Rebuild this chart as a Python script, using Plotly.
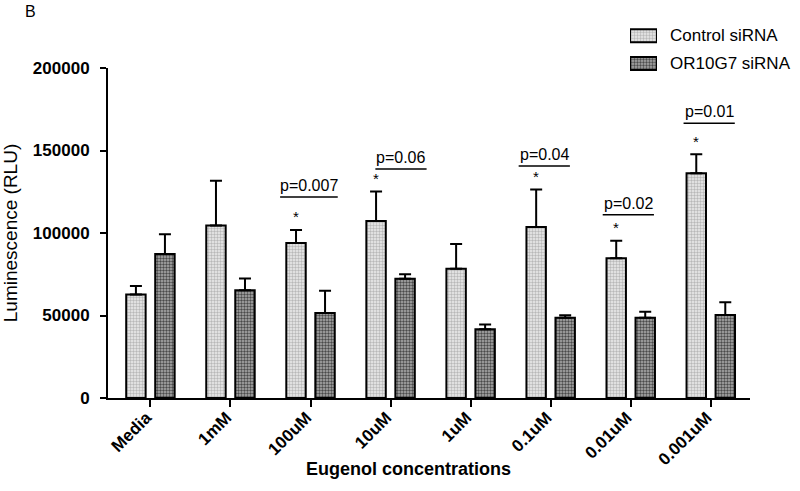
import plotly.graph_objects as go

# ---- data ----
categories = ["Media", "1mM", "100uM", "10uM", "1uM", "0.1uM", "0.01uM", "0.001uM"]
series_names = ["Control siRNA", "OR10G7 siRNA"]
control_mean = [62800, 104600, 93900, 107300, 78400, 103600, 84700, 136200]
control_err = [5100, 27100, 7900, 17800, 15000, 22700, 10600, 11500]
or10g7_mean = [87300, 65300, 51500, 72300, 41600, 48700, 48700, 50300]
or10g7_err = [11900, 7200, 13500, 2700, 3000, 1400, 3600, 7700]
y_ticks = [0, 50000, 100000, 150000, 200000]
sig_categories = ["100uM", "10uM", "0.1uM", "0.01uM", "0.001uM"]
p_labels = ["p=0.007", "p=0.06", "p=0.04", "p=0.02", "p=0.01"]

# ---- layout helpers (positions, not data) ----
W, H = 800, 491
PLOT_L, PLOT_R, PLOT_T, PLOT_B = 108, 750, 68, 398


def fx(x):
    return x / W


def fy(y):
    return 1 - y / H


p_text_dx = [-0.02, 0.13, -0.08, -0.03, -0.02]      # in category units
p_line_y = [121800, 138800, 140600, 111000, 166500]   # underline heights (y units)
p_half_w = [0.36, 0.32, 0.32, 0.32, 0.32]
ctrl_off = -0.18

FONT = "Liberation Sans, Arial, sans-serif"

styles = [
    dict(color="#e2e2e2", line=dict(color="black", width=2),
         pattern=dict(shape=".", fgcolor="#b8b8b8", bgcolor="#eeeeee",
                      size=3, solidity=0.5, fillmode="replace")),
    dict(color="#808080", line=dict(color="black", width=2),
         pattern=dict(shape=".", fgcolor="#4a4a4a", bgcolor="#b0b0b0",
                      size=3, solidity=0.5, fillmode="replace")),
]

fig = go.Figure()
for name, mean, err, st in [(series_names[0], control_mean, control_err, styles[0]),
                            (series_names[1], or10g7_mean, or10g7_err, styles[1])]:
    fig.add_trace(go.Bar(
        name=name, x=categories, y=mean, showlegend=False,
        error_y=dict(type="data", array=err, symmetric=False,
                     arrayminus=[0] * len(err), color="black",
                     thickness=2, width=6),
        marker=st, xaxis="x", yaxis="y",
    ))

# legend swatches (wide rectangles, as in the original legend)
for i, st in enumerate(styles):
    fig.add_trace(go.Bar(
        x=[1], y=[i], orientation="h", width=0.47, marker=st,
        showlegend=False, hoverinfo="skip", xaxis="x2", yaxis="y2",
    ))

annotations = []
shapes = []
for i, cat in enumerate(sig_categories):
    idx = categories.index(cat)
    top = control_mean[idx] + control_err[idx]
    annotations.append(dict(x=idx + ctrl_off, y=top + 8000, xref="x", yref="y",
                            text="*", showarrow=False, yanchor="middle",
                            font=dict(size=15, color="black")))
    cx = idx + p_text_dx[i]
    annotations.append(dict(x=cx, y=p_line_y[i], xref="x", yref="y",
                            text=p_labels[i], showarrow=False, yanchor="bottom",
                            yshift=1, font=dict(size=16, color="black")))
    shapes.append(dict(type="line", xref="x", yref="y",
                       x0=cx - p_half_w[i], x1=cx + p_half_w[i],
                       y0=p_line_y[i], y1=p_line_y[i],
                       line=dict(color="black", width=1.5)))

for i, name in enumerate(series_names):
    annotations.append(dict(x=fx(668), y=i, xref="paper", yref="y2",
                            text=name, showarrow=False, xanchor="left",
                            yanchor="middle", font=dict(size=17, color="black")))

annotations.append(dict(x=fx(30), y=fy(11), xref="paper", yref="paper",
                        text="B", showarrow=False, xanchor="center",
                        yanchor="middle", font=dict(size=16, color="black")))
annotations.append(dict(x=fx(408), y=fy(469), xref="paper", yref="paper",
                        text="<b>Eugenol concentrations</b>",
                        showarrow=False, xanchor="center", yanchor="middle",
                        font=dict(size=18, color="black")))

fig.update_layout(
    width=W, height=H,
    margin=dict(l=0, r=0, t=0, b=0),
    paper_bgcolor="white", plot_bgcolor="white",
    font=dict(family=FONT, color="black"),
    barmode="group", bargap=0.275, bargroupgap=0.33,
    showlegend=False,
    annotations=annotations,
    shapes=shapes,
    xaxis=dict(domain=[fx(PLOT_L), fx(PLOT_R)], range=[-0.53, 7.49],
               showline=True, linecolor="black",
               linewidth=2, ticks="outside", ticklen=7, tickwidth=2,
               tickcolor="black", tickangle=-45,
               tickvals=categories, ticktext=[f"<b>{c}</b>" for c in categories],
               tickfont=dict(size=17, family=FONT, color="black"),
               ticklabelshift=-4, ticklabelstandoff=-6,
               showgrid=False, zeroline=False, automargin=False, anchor="y"),
    yaxis=dict(domain=[fy(PLOT_B), fy(PLOT_T)], range=[0, 200000],
               tickvals=y_ticks, ticktext=[f"<b>{v}</b>" for v in y_ticks],
               showline=True, linecolor="black", linewidth=2,
               ticks="outside", ticklen=6, tickwidth=2, tickcolor="black",
               tickfont=dict(size=17, color="black"), ticklabelstandoff=7,
               showgrid=False, zeroline=False, automargin=False, anchor="x",
               title=dict(text="Luminescence (RLU)", font=dict(size=19),
                          standoff=12)),
    xaxis2=dict(domain=[fx(630), fx(657)], range=[0, 1], visible=False,
                fixedrange=True, anchor="y2"),
    yaxis2=dict(domain=[fy(77.3), fy(21.9)], range=[1.5, -0.5], visible=False,
                fixedrange=True, anchor="x2"),
)

fig.write_html("out.html", config={"displayModeBar": False},
               post_script="document.body.style.margin='0';")
